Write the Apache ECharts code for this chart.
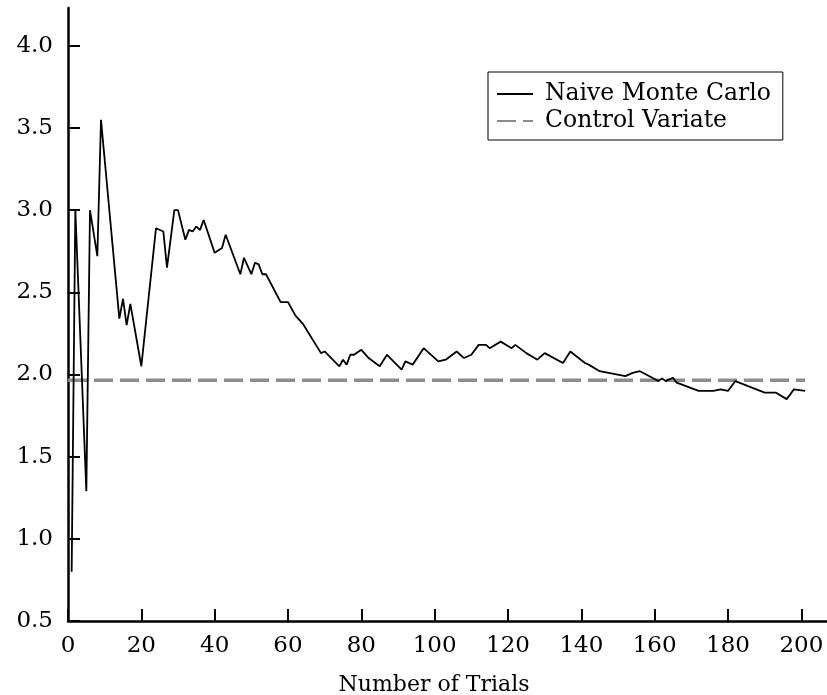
<!DOCTYPE html>
<html>
<head>
<meta charset="utf-8">
<script src="https://cdn.jsdelivr.net/npm/echarts@6/dist/echarts.min.js"></script>
<style>
  html, body { margin: 0; padding: 0; background: #fff; }
  #chart { width: 827px; height: 695px; }
</style>
</head>
<body>
<div id="chart"></div>
<script>
// values
const trials = [1, 2, 5, 6, 8, 9, 14, 15, 16, 17, 20, 24, 26, 27, 29, 30, 32, 33, 34, 35, 36, 37,
  40, 42, 43, 47, 48, 50, 51, 52, 53, 54, 58, 60, 62, 64, 69, 70, 74, 75, 76, 77, 78, 80, 82, 85,
  87, 91, 92, 94, 97, 101, 103, 106, 108, 110, 112, 114, 115, 118, 121, 122, 125, 128, 130, 135,
  137, 141, 142, 145, 152, 154, 156, 161, 162, 163, 165, 166, 172, 176, 178, 180, 182, 190, 193,
  196, 198, 201];
const naive = [0.80, 3.00, 1.29, 3.00, 2.72, 3.55, 2.34, 2.46, 2.30, 2.43, 2.05, 2.89, 2.87, 2.65,
  3.00, 3.00, 2.82, 2.88, 2.87, 2.90, 2.88, 2.94, 2.74, 2.77, 2.85, 2.61, 2.71, 2.61, 2.68, 2.67,
  2.61, 2.61, 2.44, 2.44, 2.36, 2.31, 2.13, 2.14, 2.05, 2.09, 2.06, 2.12, 2.12, 2.15, 2.10, 2.05,
  2.12, 2.03, 2.08, 2.06, 2.16, 2.08, 2.09, 2.14, 2.10, 2.12, 2.18, 2.18, 2.16, 2.20, 2.16, 2.18,
  2.13, 2.09, 2.13, 2.07, 2.14, 2.07, 2.06, 2.02, 1.99, 2.01, 2.02, 1.96, 1.975, 1.96, 1.98, 1.95,
  1.90, 1.90, 1.91, 1.90, 1.96, 1.89, 1.89, 1.85, 1.91, 1.90];
const controlTrials = [0, 201];
const controlValues = [1.965, 1.965];
const xTicks = [0, 20, 40, 60, 80, 100, 120, 140, 160, 180, 200];
const yTicks = [0.5, 1.0, 1.5, 2.0, 2.5, 3.0, 3.5, 4.0];

const font = 'DejaVu Serif';
const chart = echarts.init(document.getElementById('chart'));

chart.setOption({
  animation: false,
  backgroundColor: '#fff',
  grid: { left: 68, right: 0, top: 8, bottom: 74, outerBoundsMode: 'none' },
  legend: {
    left: 488,
    top: 72,
    orient: 'vertical',
    borderColor: '#000',
    borderWidth: 1,
    padding: [9, 12, 6, 8],
    itemGap: 1,
    itemWidth: 36,
    itemHeight: 14,
    itemStyle: { opacity: 0 },
    textStyle: { fontFamily: font, fontSize: 23.5, color: '#000', lineHeight: 26, padding: [0, 0, 0, 7] },
    data: ['Naive Monte Carlo', 'Control Variate']
  },
  xAxis: {
    type: 'value',
    min: 0,
    max: 207,
    name: 'Number of Trials',
    nameLocation: 'middle',
    nameGap: 53,
    nameTextStyle: { fontFamily: font, fontSize: 22, color: '#000', padding: [0, 27, 0, 0] },
    axisLine: { lineStyle: { color: '#000', width: 2.5 } },
    axisTick: { inside: true, length: 12, lineStyle: { color: '#000', width: 2 }, customValues: xTicks },
    axisLabel: { fontFamily: font, fontSize: 23, color: '#000', margin: 14, customValues: xTicks },
    splitLine: { show: false }
  },
  yAxis: {
    type: 'value',
    min: 0.5,
    max: 4.23,
    axisLine: { show: true, lineStyle: { color: '#000', width: 2.5 } },
    axisTick: { show: true, inside: true, length: 12, lineStyle: { color: '#000', width: 2 }, customValues: yTicks },
    axisLabel: {
      fontFamily: font, fontSize: 23, color: '#000', margin: 15, customValues: yTicks,
      formatter: (v) => v.toFixed(1)
    },
    splitLine: { show: false }
  },
  series: [
    {
      name: 'Naive Monte Carlo',
      type: 'line',
      symbol: 'none',
      data: trials.map((t, i) => [t, naive[i]]),
      lineStyle: { color: '#000', width: 1.8 },
      itemStyle: { color: '#000' },
      z: 3
    },
    {
      name: 'Control Variate',
      type: 'line',
      symbol: 'none',
      data: controlTrials.map((t, i) => [t, controlValues[i]]),
      lineStyle: { color: '#8c8c8c', width: 3.5, type: [19, 7] },
      itemStyle: { color: '#8c8c8c' },
      z: 2
    }
  ]
});
</script>
</body>
</html>
